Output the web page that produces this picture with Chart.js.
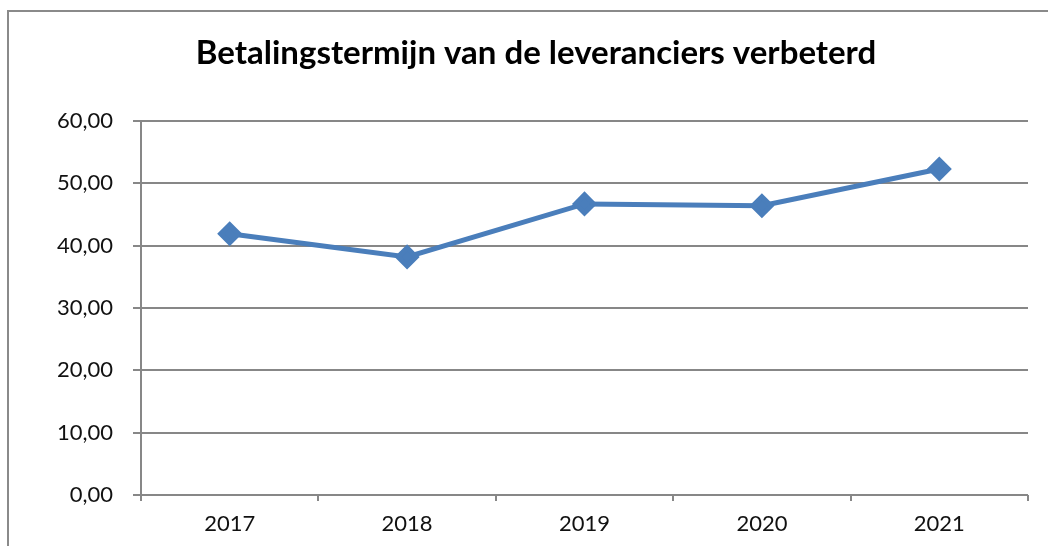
<!DOCTYPE html>
<html>
<head>
<meta charset="utf-8">
<script src="https://cdn.jsdelivr.net/npm/chart.js"></script>
<style>
  body { margin: 0; background: #fff; }
  #wrap { width: 1048px; height: 546px; }
</style>
</head>
<body>
<div id="wrap"><canvas id="termijnChart" width="1048" height="546"></canvas></div>
<script>
// Betalingstermijn per jaar (dagen)
const jaren = ['2017', '2018', '2019', '2020', '2021'];
const termijn = [41.9, 38.2, 46.7, 46.4, 52.3];
const yMin = 0, yMax = 60, yStap = 10;
const titel = 'Betalingstermijn van de leveranciers verbeterd';

const gridKleur = '#878787';
const lijnKleur = '#4a7ebb';

// witte achtergrond, grijze rand (rechts/onder buiten beeld) en de titel
const kader = {
  id: 'kader',
  beforeDraw(chart) {
    const ctx = chart.ctx;
    ctx.save();
    ctx.fillStyle = '#fff';
    ctx.fillRect(0, 0, chart.width, chart.height);
    ctx.strokeStyle = '#8a8a8a';
    ctx.lineWidth = 2;
    ctx.strokeRect(8, 11, chart.width + 20, chart.height + 20);
    ctx.fillStyle = '#000';
    ctx.font = 'bold 33px Lato';
    ctx.textAlign = 'center';
    ctx.textBaseline = 'alphabetic';
    ctx.fillText(titel, 536, 64);
    ctx.restore();
  }
};

new Chart(document.getElementById('termijnChart').getContext('2d'), {
  type: 'line',
  data: {
    labels: jaren,
    datasets: [{
      data: termijn,
      borderColor: lijnKleur,
      backgroundColor: lijnKleur,
      borderWidth: 5,
      pointStyle: 'rectRot',
      pointRadius: 9,
      pointHoverRadius: 9,
      tension: 0,
      fill: false
    }]
  },
  options: {
    responsive: false,
    animation: false,
    layout: { padding: { left: 0, right: 20, top: 121, bottom: 0 } },
    plugins: {
      legend: { display: false },
      tooltip: { enabled: false },
      title: { display: false }
    },
    scales: {
      x: {
        offset: true,
        afterFit(s) { s.height = 51; },
        grid: { display: true, drawOnChartArea: false, drawTicks: true, tickLength: 6, color: gridKleur, lineWidth: 2, offset: true },
        border: { display: false },
        ticks: { color: '#111', font: { family: 'Lato', size: 22 }, padding: 10 }
      },
      y: {
        min: yMin,
        max: yMax,
        afterFit(s) { s.width = 141; },
        grid: { color: gridKleur, lineWidth: 2, drawTicks: true, tickLength: 8 },
        border: { display: true, color: gridKleur, width: 2 },
        ticks: {
          stepSize: yStap,
          color: '#111',
          font: { family: 'Lato', size: 22 },
          padding: 20,
          callback: v => v.toFixed(2).replace('.', ',')
        }
      }
    }
  },
  plugins: [kader]
});
</script>
</body>
</html>
